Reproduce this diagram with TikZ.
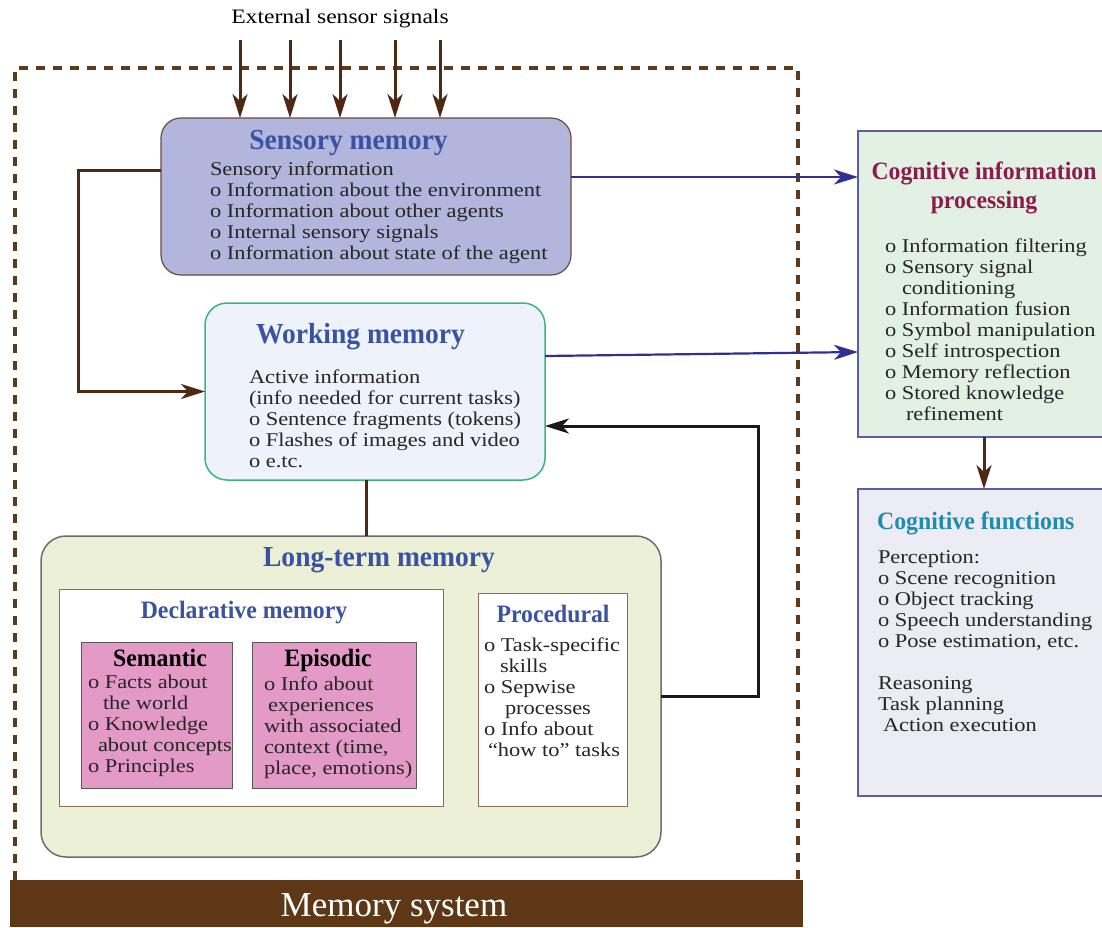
\documentclass[tikz,border=0pt]{standalone}
\usepackage{fontspec}
\setmainfont{Liberation Serif}[FakeStretch=1.15]
\newfontfamily\titlefont{Liberation Serif}[FakeStretch=0.95]
\newfontfamily\plainfont{Liberation Serif}
\usetikzlibrary{arrows.meta}
\definecolor{brn}{HTML}{4E2812}
\definecolor{dashbrn}{HTML}{5C3A1A}
\definecolor{barfill}{HTML}{5E3816}
\definecolor{hblue}{HTML}{3A52A3}
\definecolor{sensfill}{HTML}{B3B6DC}
\definecolor{sensdraw}{HTML}{6B4A3C}
\definecolor{workfill}{HTML}{EEF2FA}
\definecolor{workdraw}{HTML}{3DB57A}
\definecolor{ltfill}{HTML}{ECF0D6}
\definecolor{ltdraw}{HTML}{6D6D6D}
\definecolor{pink}{HTML}{E39AC6}
\definecolor{boxbrown}{HTML}{8B6B5A}
\definecolor{cogpfill}{HTML}{E3F1E5}
\definecolor{cogffill}{HTML}{ECECF5}
\definecolor{cogdraw}{HTML}{5B5EA6}
\definecolor{maroon}{HTML}{8B1C4B}
\definecolor{teal}{HTML}{1F8BB0}
\definecolor{arrblue}{HTML}{2E3192}
\begin{document}
\begin{tikzpicture}[x=1pt,y=-1pt,
  box/.style={inner sep=0pt,outer sep=0pt},
  body/.style={inner sep=0pt,outer sep=0pt,align=left,anchor=base west,font=\fontsize{19.5}{21}\selectfont,text=black!85},
  bigtitle/.style={inner sep=0pt,anchor=base,font=\titlefont\fontsize{29}{33}\selectfont\bfseries,text=hblue},
  midtitle/.style={inner sep=0pt,anchor=base,font=\titlefont\fontsize{25}{29}\selectfont\bfseries,text=hblue},
  brarrow/.style={draw=brn,line width=3pt,-{Stealth[length=24pt,width=15pt,inset=7pt]}},
  bkarrow/.style={draw=black!90,line width=3pt,-{Stealth[length=24pt,width=15pt,inset=7pt]}},
  blarrow/.style={draw=arrblue,line width=2.2pt,-{Stealth[length=24pt,width=15pt,inset=7pt]}},
  frame/.style={draw=dashbrn,line width=4pt,dash pattern=on 9pt off 8pt}
]
\useasboundingbox (0,0) rectangle (1102,927);

% memory system frame
\draw[frame] (15,880) -- (15,68) -- (798,68) -- (798,880);
\node[box,fill=barfill,minimum width=793pt,minimum height=47pt] (bar) at (406.5,903.5) {};
\node[inner sep=0pt,anchor=base,text=white,font=\plainfont\fontsize{35}{40}\selectfont] (bartxt) at (394,916) {Memory system};

% external signals
\node[inner sep=0pt,anchor=base,font=\fontsize{20.5}{24}\selectfont] (ext) at (340,23) {External sensor signals};

% boxes
\node[box,fill=sensfill,draw=sensdraw,line width=1.2pt,rounded corners=20pt,minimum width=410pt,minimum height=157pt] (sens) at (366,196.5) {};
\node[box,fill=workfill,draw=workdraw,line width=1.5pt,rounded corners=22pt,minimum width=340pt,minimum height=177pt] (work) at (375,391.5) {};
\node[box,fill=ltfill,draw=ltdraw,line width=1.5pt,rounded corners=25pt,minimum width=620pt,minimum height=321pt] (lt) at (351,696.5) {};
\node[box,fill=white,draw=boxbrown,line width=1pt,minimum width=384pt,minimum height=217pt] (decl) at (251,697.5) {};
\node[box,fill=pink,draw=black!65,line width=1pt,minimum width=151pt,minimum height=146pt] (sem) at (156.5,715) {};
\node[box,fill=pink,draw=black!65,line width=1pt,minimum width=164pt,minimum height=146pt] (epi) at (334,715) {};
\node[box,fill=white,draw=boxbrown,line width=1pt,minimum width=149pt,minimum height=213pt] (proc) at (552.5,699.5) {};
\node[box,fill=cogpfill,draw=cogdraw,line width=1.2pt,minimum width=248pt,minimum height=306pt] (cogp) at (982,284) {};
\node[box,fill=cogffill,draw=cogdraw,line width=1.2pt,minimum width=248pt,minimum height=307pt] (cogf) at (982,642.5) {};

% sensory memory text (base anchor = last line)
\node[bigtitle] (senst) at (348.5,149) {Sensory memory};
\node[body] (sensb) at (210,259) {Sensory information\\
o Information about the environment\\
o Information about other agents\\
o Internal sensory signals\\
o Information about state of the agent};

% working memory text
\node[bigtitle] (workt) at (360.5,343) {Working memory};
\node[body] (workb) at (249,467) {Active information\\
(info needed for current tasks)\\
o Sentence fragments (tokens)\\
o Flashes of images and video\\
o e.tc.};

% long-term memory text
\node[bigtitle] (ltt) at (379,566) {Long-term memory};
\node[midtitle] (declt) at (244,618) {Declarative memory};
\node[midtitle,text=black] (semt) at (160,666) {Semantic};
\node[body] (semb) at (88,772) {o Facts about\\
\hspace{15pt}the world\\
o Knowledge\\
\hspace{10pt}about concepts\\
o Principles};
\node[midtitle,text=black] (epit) at (328,666) {Episodic};
\node[body] (epib) at (264,774) {o Info about\\
\hspace{4pt}experiences\\
with associated\\
context (time,\\
place, emotions)};
\node[midtitle] (proct) at (553,622) {Procedural};
\node[body] (procb) at (484,756) {o Task-specific\\
\hspace{16pt}skills\\
o Sepwise\\
\hspace{21pt}processes\\
o Info about\\
\hspace{4pt}“how to” tasks};

% cognitive information processing
\node[midtitle,text=maroon,align=center,font=\titlefont\fontsize{25}{29}\selectfont\bfseries] (cogpt) at (984,208) {Cognitive information\\processing};
\node[body] (cogpb) at (885,420) {o Information filtering\\
o Sensory signal\\
\hspace{17pt}conditioning\\
o Information fusion\\
o Symbol manipulation\\
o Self introspection\\
o Memory reflection\\
o Stored knowledge\\
\hspace{21pt}refinement};

% cognitive functions
\node[midtitle,text=teal,anchor=base west] (cogft) at (877,529) {Cognitive functions};
\node[body] (cogfb) at (878,731) {Perception:\\
o Scene recognition\\
o Object tracking\\
o Speech understanding\\
o Pose estimation, etc.\\[21pt]
Reasoning\\
Task planning\\
\hspace{5pt}Action execution};

% connectors
\foreach \x [count=\i] in {240,290,340,395,440} {
  \coordinate (s\i) at (\x,40);
  \draw[brarrow] (s\i) -- (s\i |- sens.north);
}
\draw[brarrow] ([yshift=26.5pt]sens.west) -- ++(-83,0) |- (work.west);
\draw[blarrow] ([yshift=19.5pt]sens.east) coordinate (a1) -- (a1 -| cogp.west);
\draw[blarrow] ([yshift=35.5pt]work.east) -- ([yshift=-68pt]cogp.west);
\draw[bkarrow] (lt.east) -- ++(97,0) |- ([yshift=-34.5pt]work.east);
\draw[draw=brn,line width=3pt] ([xshift=-9pt]work.south) -- ([xshift=-9pt]work.south |- lt.north);
\draw[brarrow] ([xshift=2pt]cogp.south) -- ([xshift=2pt]cogf.north);
\end{tikzpicture}
\end{document}
